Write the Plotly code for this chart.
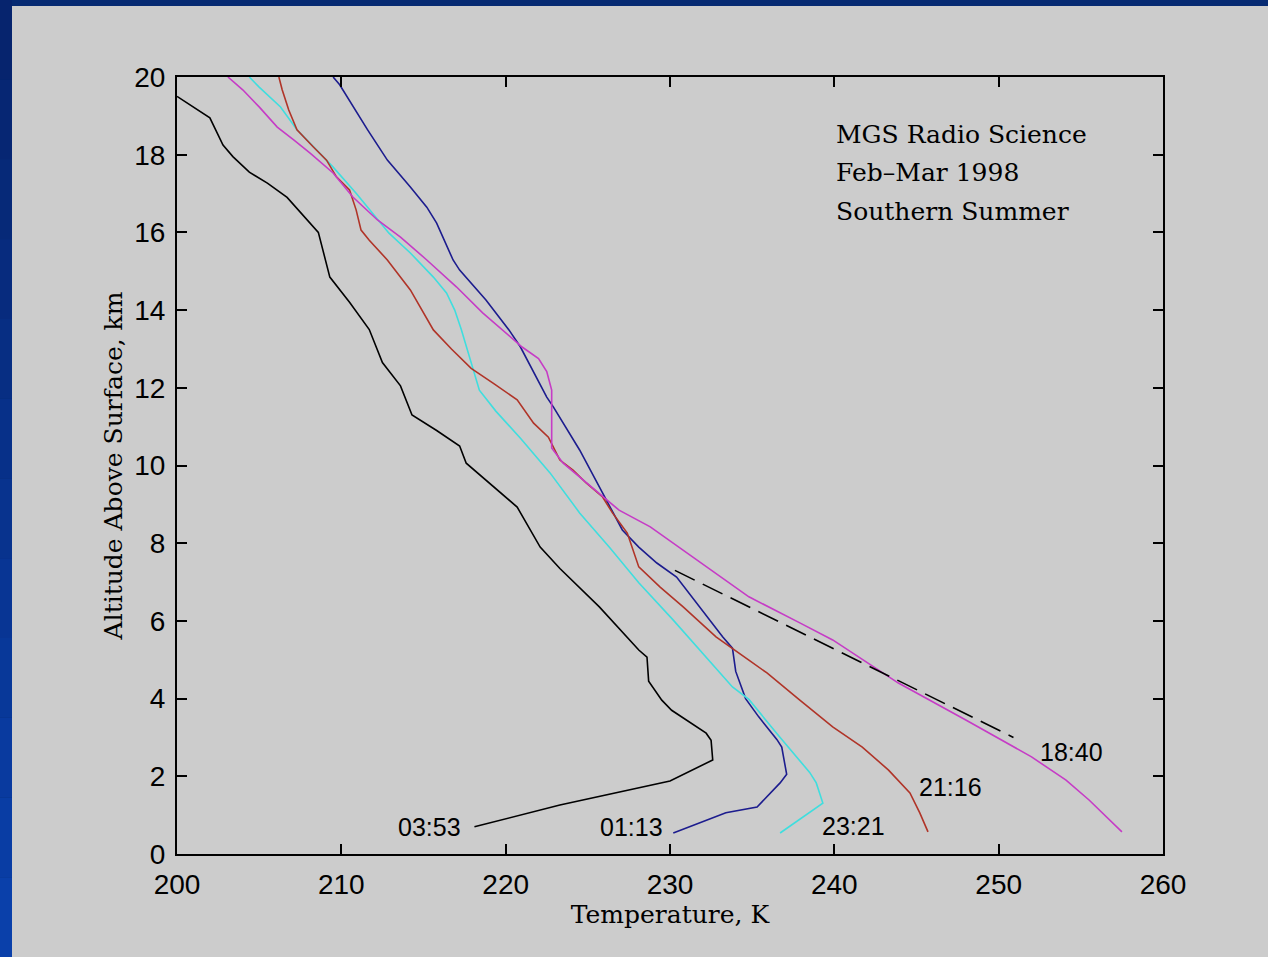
import plotly.graph_objects as go

# ---- data (Temperature K, Altitude km) ----
t_0353 = [200.0, 202.0, 202.8, 203.4, 204.4, 205.5, 206.7, 208.3, 208.6, 209.3, 210.5, 211.7, 212.5, 213.6,
          214.3, 215.8, 217.2, 217.6, 219.0, 220.7, 222.1, 223.3, 225.7, 228.1, 228.6, 228.7, 229.5, 230.1,
          232.2, 232.5, 232.6, 230.0, 223.3, 218.1]
z_0353 = [19.5, 18.95, 18.25, 17.95, 17.55, 17.27, 16.9, 16.15, 16.0, 14.85, 14.2, 13.5, 12.65, 12.05,
          11.3, 10.9, 10.5, 10.06, 9.55, 8.93, 7.9, 7.35, 6.36, 5.25, 5.07, 4.45, 3.96, 3.7,
          3.11, 2.93, 2.42, 1.88, 1.26, 0.7]

t_0113 = [209.5, 209.9, 211.6, 212.8, 214.2, 215.2, 215.8, 216.8, 217.2, 218.8, 220.2, 220.9, 222.5, 222.9,
          224.5, 225.9, 226.5, 227.1, 228.1, 229.2, 230.4, 231.0, 232.4, 233.2, 233.8, 234.0, 234.6, 235.4,
          236.5, 236.8, 237.1, 236.7, 235.3, 233.4, 230.2]
z_0113 = [20.0, 19.8, 18.64, 17.86, 17.17, 16.65, 16.24, 15.29, 15.03, 14.26, 13.49, 13.05, 11.76, 11.51,
          10.4, 9.29, 8.78, 8.34, 7.9, 7.49, 7.13, 6.8, 6.02, 5.59, 5.3, 4.7, 4.0, 3.53,
          2.95, 2.75, 2.05, 1.83, 1.21, 1.06, 0.54]

t_2321 = [204.4, 205.0, 206.3, 207.3, 208.5, 209.5, 210.9, 211.9, 212.9, 214.2, 215.6, 216.4, 216.9, 217.3,
          218.0, 218.4, 219.4, 220.9, 222.7, 224.5, 226.3, 228.1, 230.2, 232.2, 233.8, 234.8, 236.6, 238.5,
          238.9, 239.3, 236.7]
z_2321 = [20.0, 19.74, 19.23, 18.64, 18.12, 17.68, 17.01, 16.5, 15.98, 15.47, 14.85, 14.44, 14.0, 13.5,
          12.54, 11.94, 11.4, 10.7, 9.81, 8.78, 7.9, 6.98, 6.02, 5.07, 4.3, 3.98, 3.05, 2.1,
          1.83, 1.31, 0.54]

t_2116 = [206.2, 206.4, 206.8, 207.3, 208.3, 209.1, 209.7, 210.5, 210.9, 211.2, 211.7, 212.8, 214.2, 215.6,
          216.7, 217.9, 219.3, 220.7, 221.7, 222.6, 223.3, 224.1, 224.9, 225.9, 226.5, 227.4, 228.1, 229.4,
          230.8, 232.8, 234.8, 235.9, 237.9, 239.9, 241.7, 243.3, 244.6, 245.2, 245.7]
z_2116 = [20.0, 19.67, 19.15, 18.64, 18.2, 17.86, 17.43, 17.09, 16.58, 16.06, 15.8, 15.29, 14.52, 13.49,
          13.0, 12.5, 12.1, 11.69, 11.09, 10.73, 10.14, 9.88, 9.55, 9.19, 8.78, 8.26, 7.39, 6.87,
          6.36, 5.59, 4.99, 4.66, 3.96, 3.27, 2.75, 2.16, 1.57, 1.06, 0.57]

t_1840 = [203.1, 204.0, 205.0, 206.1, 207.1, 208.1, 209.5, 210.7, 212.2, 213.6, 215.2, 217.0, 218.6, 220.3,
          221.0, 222.0, 222.5, 222.8, 222.8, 222.8, 223.5, 224.5, 225.9, 226.9, 228.8, 230.8, 232.8, 234.8,
          237.9, 239.9, 243.9, 248.0, 252.0, 254.1, 255.5, 257.5]
z_1840 = [20.0, 19.67, 19.23, 18.71, 18.38, 18.04, 17.53, 16.91, 16.32, 15.88, 15.29, 14.6, 13.93, 13.31,
          13.05, 12.75, 12.42, 11.94, 10.73, 10.45, 10.06, 9.7, 9.19, 8.85, 8.42, 7.82, 7.23, 6.62,
          5.95, 5.51, 4.4, 3.45, 2.5, 1.9, 1.39, 0.57]

t_dashed = [230.3, 250.9]
z_dashed = [7.3, 3.0]

x_ticks = [200, 210, 220, 230, 240, 250, 260]
y_ticks = [0, 2, 4, 6, 8, 10, 12, 14, 16, 18, 20]

# ---- figure ----
W, H = 1268, 957
L, R, T, B = 177, 105, 77, 103
pw, ph = W - L - R, H - T - B

def px2paper_x(px):
    return (px - L) / pw

def py2paper_y(py):
    return (H - B - py) / ph

fig = go.Figure()

series = [
    (t_0353, z_0353, "#000000", "03:53"),
    (t_0113, z_0113, "#1c1c8e", "01:13"),
    (t_2321, z_2321, "#3fdede", "23:21"),
    (t_2116, z_2116, "#b03428", "21:16"),
    (t_1840, z_1840, "#c63cc6", "18:40"),
]
for tx, zy, col, name in series:
    fig.add_trace(go.Scatter(x=tx, y=zy, mode="lines", line=dict(color=col, width=1.6),
                             name=name, showlegend=False))

fig.add_trace(go.Scatter(x=t_dashed, y=z_dashed, mode="lines",
                         line=dict(color="#000000", width=1.6, dash="22px,9px"),
                         showlegend=False))

label_font = dict(family="Liberation Sans", size=25, color="#000000")
fig.add_annotation(x=217.4, y=0.7, text="03:53", showarrow=False, xanchor="right", yanchor="middle", font=label_font)
fig.add_annotation(x=229.7, y=0.7, text="01:13", showarrow=False, xanchor="right", yanchor="middle", font=label_font)
fig.add_annotation(x=239.1, y=0.72, text="23:21", showarrow=False, xanchor="left", yanchor="middle", font=label_font)
fig.add_annotation(x=245.0, y=1.72, text="21:16", showarrow=False, xanchor="left", yanchor="middle", font=label_font)
fig.add_annotation(x=252.4, y=2.63, text="18:40", showarrow=False, xanchor="left", yanchor="middle", font=label_font)

box_font = dict(family="DejaVu Serif", size=25, color="#000000")
for txt, zz in [("MGS Radio Science", 18.53), ("Feb\u2013Mar 1998", 17.55), ("Southern Summer", 16.55)]:
    fig.add_annotation(x=240.0, y=zz, text=txt, showarrow=False, xanchor="left", yanchor="middle", font=box_font)

# background: blue frame and gray panel
shapes = []
shapes.append(dict(type="rect", xref="paper", yref="paper", layer="below",
                   x0=px2paper_x(0), x1=px2paper_x(W), y0=py2paper_y(H), y1=py2paper_y(0),
                   fillcolor="#062a72", line=dict(width=0)))
n = 12
for i in range(n):
    y0 = i * H / n
    y1 = (i + 1) * H / n
    f = i / (n - 1)
    r = int(6 + 4 * f)
    g = int(36 + 28 * f)
    b = int(110 + 60 * f)
    shapes.append(dict(type="rect", xref="paper", yref="paper", layer="below",
                       x0=px2paper_x(0), x1=px2paper_x(12), y0=py2paper_y(y1), y1=py2paper_y(y0),
                       fillcolor=f"rgb({r},{g},{b})", line=dict(width=0)))
shapes.append(dict(type="rect", xref="paper", yref="paper", layer="below",
                   x0=px2paper_x(12), x1=px2paper_x(W), y0=py2paper_y(H), y1=py2paper_y(6),
                   fillcolor="#cccccc", line=dict(width=0)))

axis_common = dict(showline=True, linecolor="#000000", linewidth=2, mirror="ticks",
                   ticks="inside", ticklen=10, tickwidth=1.5, tickcolor="#000000",
                   showgrid=False, zeroline=False,
                   tickfont=dict(family="Liberation Sans", size=28, color="#000000"))

fig.update_layout(
    width=W, height=H,
    margin=dict(l=L, r=R, t=T, b=B),
    paper_bgcolor="#cccccc",
    plot_bgcolor="#ffffff",
    shapes=shapes,
    xaxis=dict(range=[200, 260], tickvals=x_ticks, ticktext=[str(v) for v in x_ticks],
               title=dict(text="Temperature, K", font=dict(family="DejaVu Serif", size=25, color="#000000"),
                          standoff=2),
               ticklabelstandoff=4,
               **axis_common),
    yaxis=dict(range=[0, 20], tickvals=y_ticks, ticktext=[str(v) for v in y_ticks],
               title=dict(text="Altitude Above Surface, km", font=dict(family="DejaVu Serif", size=25, color="#000000"),
                          standoff=4),
               ticklabelstandoff=4,
               **axis_common),
)

fig.write_html("out.html")
